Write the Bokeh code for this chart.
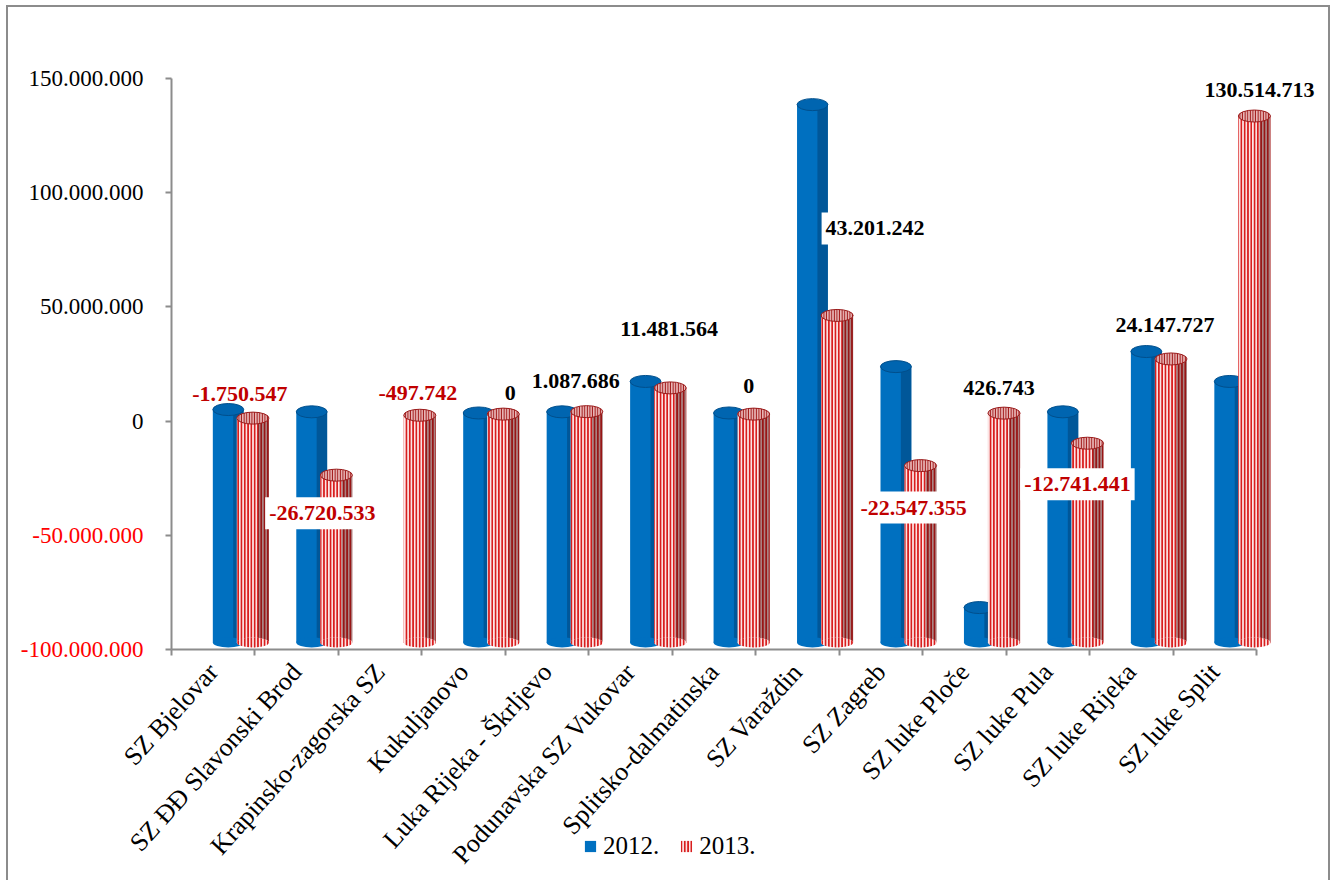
import math
from bokeh.plotting import figure
from bokeh.models import (ColumnDataSource, Range1d, FixedTicker, Label,
                          Legend, LegendItem)
from bokeh.embed import file_html
from bokeh.resources import INLINE

nan = float("nan")

# ---------------- data ----------------
categories = ["SZ Bjelovar", "SZ ĐĐ Slavonski Brod", "Krapinsko-zagorska SZ",
              "Kukuljanovo", "Luka Rijeka - Škrljevo", "Podunavska SZ Vukovar",
              "Splitsko-dalmatinska", "SZ Varaždin", "SZ Zagreb", "SZ luke Ploče",
              "SZ luke Pula", "SZ luke Rijeka", "SZ luke Split"]
values_2012 = [2.0e6, 1.0e6, nan, 0.5e6, 1.0e6, 14.3e6, 0.5e6,
               135.5e6, 20.8e6, -84.7e6, 1.0e6, 27.4e6, 14.3e6]
values_2013 = [-1750547, -26720533, -497742, 0, 1087686, 11481564, 0,
               43201242, -22547355, 426743, -12741441, 24147727, 130514713]
y_ticks = [-100e6, -50e6, 0, 50e6, 100e6, 150e6]
y_tick_labels = ["-100.000.000", "-50.000.000", "0", "50.000.000",
                 "100.000.000", "150.000.000"]
series_names = ["2012.", "2013."]

# label placement (pixels, relative to the top of the 2013 cylinder)
label_dx = [-13, -14, -2, 7, -11, -1, -5, 38, -7, -5, -10, -6, 5]
label_dy = [24, -38, 22, 21, 31, 59, 28, 87, -42, 25, -41, 34, 26]
label_boxed = [False, True, False, False, False, False, False,
               True, True, False, True, False, False]

# ---------------- styles ----------------
FONT = "Liberation Serif"
BLUE = "#0070C0"
BLUE_DARK = "#003a6b"
RED = "#d81e1e"
RED_BG = "#fde8e8"
FLOOR = -100e6
N = len(categories)
OFF_2012, W_2012 = 0.68, 0.37
OFF_2013, W_2013 = 0.975, 0.385
SHIFT = 3.06e6          # 3D depth offset of the cylinders
X0, X1 = -1.9531, 13.8629
Y0, Y1 = -201.14e6, 181.09e6

x12 = [i + OFF_2012 for i in range(N)]
x13 = [i + OFF_2013 for i in range(N)]


def floor_of(vals):
    return [FLOOR if not math.isnan(v) else nan for v in vals]


src12 = ColumnDataSource(dict(x=x12, top=values_2012,
                              xs=[x + W_2012 * 0.33 for x in x12],
                              bottom=floor_of(values_2012)))
src13 = ColumnDataSource(dict(x=x13, top=[float(v) for v in values_2013],
                              xs=[x + W_2013 * 0.33 for x in x13],
                              bottom=floor_of(values_2013)))

p = figure(width=1320, height=873, output_backend="svg", toolbar_location=None,
           x_range=Range1d(X0, X1), y_range=Range1d(Y0, Y1),
           min_border_left=0, min_border_right=0, min_border_top=0,
           min_border_bottom=0)
p.margin = (7, 0, 0, 8)
p.extra_y_ranges = {"bars": Range1d(Y0 - SHIFT, Y1 - SHIFT)}
p.styles = {"outline": "2px solid #8c8c8c"}
p.outline_line_color = None
p.xgrid.visible = False
p.ygrid.visible = False
p.background_fill_color = "white"
p.border_fill_color = "white"

# ---- 2012 cylinders ----
b12 = p.vbar(x="x", width=W_2012, top="top", bottom="bottom", source=src12,
             y_range_name="bars", fill_color=BLUE, line_color=None)
p.vbar(x="xs", width=W_2012 * 0.34, top="top", bottom="bottom", source=src12,
       y_range_name="bars", fill_color=BLUE_DARK, fill_alpha=0.45, line_color=None)
p.ellipse(x="x", y="bottom", width=W_2012, height=10, width_units="data",
          height_units="screen", source=src12, y_range_name="bars",
          fill_color=BLUE, line_color=None)
p.ellipse(x="x", y="top", width=W_2012, height=12, width_units="data",
          height_units="screen", source=src12, y_range_name="bars",
          fill_color="#0065b0", line_color="#004f8c", line_width=1)

# ---- 2013 cylinders ----
b13 = p.vbar(x="x", width=W_2013, top="top", bottom="bottom", source=src13,
             y_range_name="bars", fill_color=RED_BG, line_color=None,
             hatch_pattern="vertical_line", hatch_color=RED, hatch_scale=3.3,
             hatch_weight=2.1)
p.vbar(x="xs", width=W_2013 * 0.34, top="top", bottom="bottom", source=src13,
       y_range_name="bars", fill_color="#4a0a0a", fill_alpha=0.45, line_color=None)
p.ellipse(x="x", y="bottom", width=W_2013, height=10, width_units="data",
          height_units="screen", source=src13, y_range_name="bars",
          fill_color=RED_BG, line_color=None, hatch_pattern="vertical_line",
          hatch_color=RED, hatch_scale=3.3, hatch_weight=2.1)
p.ellipse(x="x", y="top", width=W_2013, height=12, width_units="data",
          height_units="screen", source=src13, y_range_name="bars",
          fill_color="#e9b8b8", line_color="#9a1a1a", line_width=1,
          hatch_pattern="vertical_line", hatch_color="#a01515", hatch_scale=2.6,
          hatch_weight=1.4)

# ---- axes ----
AX = "#8c8c8c"
yax = p.yaxis[0]
yax.fixed_location = 0
yax.bounds = (y_ticks[0], y_ticks[-1])
yax.ticker = FixedTicker(ticks=y_ticks)
yax.major_label_overrides = {t: (l if t >= 0 else "") for t, l in zip(y_ticks, y_tick_labels)}
yax.major_label_text_font = FONT
yax.major_label_text_font_size = "23px"
yax.major_label_text_color = "black"
yax.major_label_standoff = 22
yax.axis_line_color = AX
yax.axis_line_width = 2
yax.major_tick_line_color = AX
yax.major_tick_line_width = 2
yax.major_tick_in = 0
yax.major_tick_out = 6
yax.minor_tick_line_color = None

# red negative tick labels
for t, l in zip(y_ticks, y_tick_labels):
    if t < 0:
        p.add_layout(Label(x=0, y=t, x_offset=-28, text=l, text_font=FONT,
                           text_font_size="23px", text_color="#ff0000",
                           text_align="right", text_baseline="middle"))

xax = p.xaxis[0]
xax.fixed_location = FLOOR
xax.bounds = (0, N)
xax.ticker = FixedTicker(ticks=[i + 0.5 for i in range(N)],
                         minor_ticks=list(range(N + 1)))
xax.major_label_overrides = {i + 0.5: c for i, c in enumerate(categories)}
xax.major_label_orientation = math.radians(48)
xax.major_label_text_font = FONT
xax.major_label_text_font_size = "26px"
xax.major_label_text_color = "black"
xax.major_label_standoff = 12
xax.major_tick_line_color = None
xax.minor_tick_line_color = AX
xax.minor_tick_line_width = 2
xax.minor_tick_in = 0
xax.minor_tick_out = 6
xax.axis_line_color = AX
xax.axis_line_width = 2

# ---- data labels (2013 values) ----
for i in range(N):
    v = values_2013[i]
    txt = f"{v:,}".replace(",", ".")
    lab = Label(x=x13[i], y=v, y_range_name="bars",
                x_offset=label_dx[i], y_offset=label_dy[i], text=txt,
                text_font=FONT, text_font_size="22px", text_font_style="bold",
                text_color="#c00000" if v < 0 else "black",
                text_align="center", text_baseline="middle")
    if label_boxed[i]:
        lab.background_fill_color = "white"
        lab.padding = (4, 9)
    p.add_layout(lab)

# ---- legend ----
legend = Legend(items=[LegendItem(label=series_names[0], renderers=[b12]),
                       LegendItem(label=series_names[1], renderers=[b13])],
                orientation="horizontal", location=(575, 20),
                glyph_width=14, glyph_height=14, label_text_font=FONT,
                label_text_font_size="25px", label_text_color="black",
                spacing=20, padding=0, margin=0,
                label_standoff=6, border_line_color=None,
                background_fill_alpha=0)
p.add_layout(legend)

open("out.html", "w").write(file_html(p, INLINE))
